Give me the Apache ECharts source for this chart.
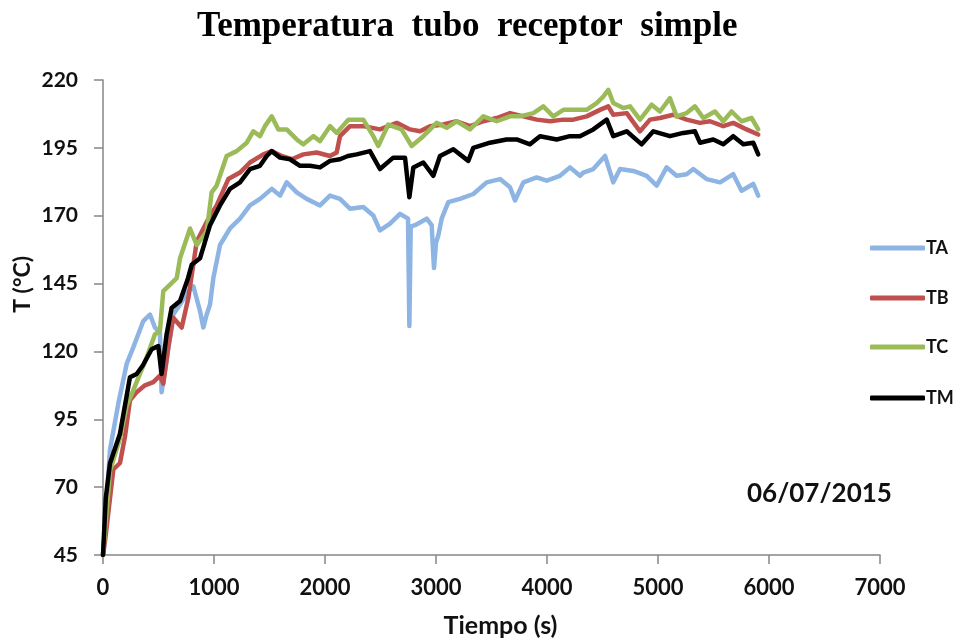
<!DOCTYPE html>
<html>
<head>
<meta charset="utf-8">
<script src="https://cdn.jsdelivr.net/npm/echarts@6/dist/echarts.min.js"></script>
<style>html,body{margin:0;padding:0;background:#fff;}#c{width:959px;height:643px;}</style>
</head>
<body>
<div id="c"></div>
<script>
var seriesNames = ['TA', 'TB', 'TC', 'TM'];
var seriesColors = ['#8DB4E2', '#C0504D', '#9BBB59', '#000000'];
var yTicks = [45, 70, 95, 120, 145, 170, 195, 220];
var xTicks = [0, 1000, 2000, 3000, 4000, 5000, 6000, 7000];

var timeTA = [0,63,138,213,273,363,423,468,513,528,573,633,694,769,814,874,904,934,964,994,1054,1144,1234,1324,1414,1520,1595,1655,1745,1835,1955,2045,2135,2225,2345,2435,2495,2586,2676,2748,2760,2772,2811,2916,2961,2982,3000,3021,3051,3111,3216,3336,3456,3577,3667,3712,3787,3907,3997,4117,4207,4297,4327,4417,4523,4597,4658,4778,4898,4988,5078,5168,5258,5318,5438,5559,5678,5753,5858,5903];
var valTA  = [45,83.8,100.8,115.4,121.5,131.2,133.6,128.8,126.9,105,116.6,133.6,137.3,142.2,144,134.9,128.8,133.6,137.3,147,159.2,165.3,168.9,173.8,176.2,179.9,177.4,182.3,178.6,176.2,173.8,177.4,176.2,172.6,173.2,170.1,164.6,167.1,170.7,168.9,129.4,166,166.5,168.9,166.5,150.7,160,162.8,168.9,175,176.2,178,182.3,183.5,180.5,175.6,182.3,184.1,182.9,184.7,187.8,184.7,185.9,187.2,192,182.3,187.2,186.5,184.7,181.1,187.8,184.7,185.3,187.2,183.5,182.3,185.3,179.2,181.7,177.4];

var timeTB = [0,18,93,153,198,243,303,378,453,513,543,588,633,709,769,844,934,1024,1129,1234,1324,1444,1520,1610,1700,1805,1925,2045,2105,2135,2225,2345,2495,2646,2766,2856,2946,3066,3186,3306,3426,3547,3667,3787,3907,4027,4147,4237,4357,4477,4552,4597,4718,4838,4928,5018,5138,5258,5378,5468,5588,5678,5798,5903];
var valTB  = [45,50,76.5,78.9,88.6,102,105,107.5,108.7,111.1,108.1,121.5,132.4,128.8,139.7,160.4,167.7,173.8,183.5,185.9,189.6,192.6,193.8,192,190.8,192.6,193.3,192,193.3,199.3,203,203,201.8,204.2,201.8,201.1,203,203.6,204.8,203,204.8,206,207.8,206.6,205.4,204.8,205.4,205.4,206.6,209,210.3,207.2,207.8,201.1,205.4,206,207.2,205.4,204.2,204.8,203,204.2,201.8,199.9];

var timeTC = [0,63,153,213,273,393,468,513,543,604,664,694,784,844,934,979,1024,1114,1204,1295,1354,1414,1459,1520,1580,1655,1745,1805,1895,1955,2045,2105,2210,2345,2435,2480,2570,2690,2781,2886,3006,3096,3186,3306,3426,3547,3667,3757,3877,3967,4057,4147,4237,4357,4447,4507,4552,4597,4688,4748,4838,4943,5018,5108,5168,5258,5333,5408,5513,5588,5663,5753,5843,5903];
var valTC  = [45,76,88,100,105.7,117.8,126.3,127.6,142.2,144.6,147,154.3,165.3,159.2,164.1,178.6,181.1,192,193.8,196.9,201.1,199.3,203,206.6,201.8,201.8,198.1,196.3,199.3,197.5,203,200.5,205.4,205.4,199.3,195.7,203.6,201.8,195.7,199.3,204.2,202.4,204.8,201.8,206.6,204.8,206.6,206.6,207.8,210.3,206.6,209,209,209,211.5,213.9,216.4,211.5,209.7,210.3,205.4,210.9,208.4,213.3,206.6,207.8,210.3,206,208.4,204.8,208.4,204.8,206,201.8];

var timeTM = [0,25,63,153,243,303,360,438,498,528,573,618,694,766,799,874,964,1054,1144,1234,1324,1414,1475,1520,1595,1685,1775,1865,1955,2045,2135,2207,2285,2405,2495,2615,2721,2760,2796,2886,2976,3036,3156,3291,3336,3486,3636,3727,3847,3937,4087,4207,4297,4417,4538,4597,4718,4853,4958,5108,5228,5333,5378,5498,5588,5678,5768,5858,5903];
var valTM  = [45,66,78.8,89.7,110.5,111.7,114.9,120.8,122,111.7,126.3,136,138.6,147,151.9,154.3,166.5,173.8,179.9,182.3,187.2,188.4,192,193.8,191.4,190.8,188.4,188.4,187.8,190.2,190.8,192,192.6,193.8,187.2,191.4,191.4,176.8,187.8,189.6,184.7,192,194.5,190.2,195,196.9,198.1,198.1,196.3,199.3,198.1,199.3,199.3,201.8,205.4,199.3,201.1,196.3,201.1,199.3,200.5,201.1,196.9,198.1,196.3,199.3,196.3,196.9,192.6];

var times = [timeTA, timeTB, timeTC, timeTM];
var vals = [valTA, valTB, valTC, valTM];

function pairs(t, v) { return t.map(function (x, i) { return [x, v[i]]; }); }

var FONT = 'Lato';
var chart = echarts.init(document.getElementById('c'), null, { renderer: 'canvas' });

var legendTops = [239, 289, 338, 389];
var series = seriesNames.map(function (n, i) {
  return {
    name: n, type: 'line', data: pairs(times[i], vals[i]),
    showSymbol: false, symbol: 'none', smooth: false,
    lineStyle: { color: seriesColors[i], width: 4.5, join: 'round', cap: 'round' },
    itemStyle: { color: seriesColors[i] },
    z: 2 + i
  };
});
var legends = seriesNames.map(function (n, i) {
  return {
    data: [n], left: 870, top: legendTops[i], orient: 'vertical',
    icon: 'roundRect', itemWidth: 55, itemHeight: 5, itemGap: 0, padding: 0,
    selectedMode: false,
    textStyle: { fontFamily: FONT, fontWeight: 'bold', fontSize: 18, color: '#111', padding: [0, 0, 0, -4] }
  };
});

chart.setOption({
  animation: false,
  backgroundColor: '#fff',
  title: {
    text: 'Temperatura  tubo  receptor  simple',
    left: 192, top: 4,
    textStyle: { fontFamily: 'Liberation Serif', fontWeight: 'bold', fontSize: 35, color: '#000' }
  },
  legend: legends,
  grid: { left: 103, right: 79, top: 80, bottom: 84, containLabel: false },
  xAxis: {
    type: 'value', min: 0, max: 7000, interval: 1000,
    name: 'Tiempo (s)', nameLocation: 'middle', nameGap: 58,
    nameTextStyle: { fontFamily: FONT, fontWeight: 'bold', fontSize: 25, color: '#111', padding: [0, 0, 0, 18] },
    axisLine: { show: true, onZero: false, lineStyle: { color: '#868686', width: 1.5 } },
    axisTick: { show: true, length: 9, lineStyle: { color: '#868686', width: 1.5 } },
    axisLabel: { margin: 22, fontFamily: FONT, fontWeight: 'bold', fontSize: 22, color: '#111',
      formatter: function (v) { return xTicks.indexOf(v) >= 0 ? String(v) : ''; } },
    splitLine: { show: false }
  },
  yAxis: {
    type: 'value', min: 45, max: 220, interval: 25,
    axisLine: { show: true, onZero: false, lineStyle: { color: '#868686', width: 1.5 } },
    axisTick: { show: true, length: 9, lineStyle: { color: '#868686', width: 1.5 } },
    axisLabel: { margin: 25, fontFamily: FONT, fontWeight: 'bold', fontSize: 21, color: '#111',
      formatter: function (v) { return yTicks.indexOf(v) >= 0 ? String(v) : ''; } },
    splitLine: { show: false }
  },
  graphic: [
    { type: 'text', left: 11, top: 256, rotation: Math.PI / 2,
      style: { text: 'T (°C)', fontFamily: FONT, fontWeight: 'bold', fontSize: 23, fill: '#111' } },
    { type: 'text', left: 747, top: 481,
      style: { text: '06/07/2015', fontFamily: FONT, fontWeight: 'bold', fontSize: 26, fill: '#111' } }
  ],
  series: series
});
</script>
</body>
</html>
